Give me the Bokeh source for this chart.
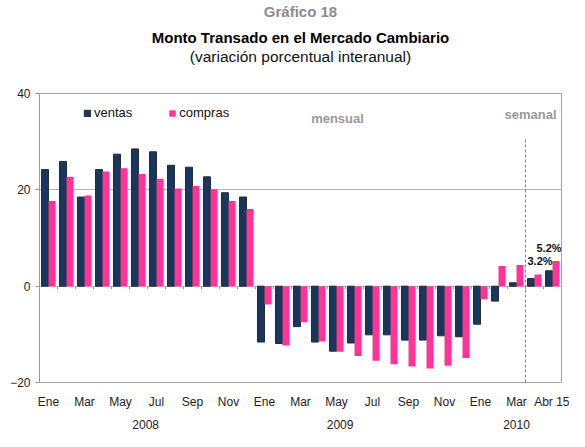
from bokeh.plotting import figure
from bokeh.models import (ColumnDataSource, FixedTicker, Legend, LegendItem, Label,
                          LinearAxis, Range1d, Title)
from bokeh.core.properties import value
from bokeh.embed import file_html
from bokeh.resources import INLINE

# ---------------- data ----------------
months = ["Ene", "Feb", "Mar", "Abr", "May", "Jun", "Jul", "Ago", "Sep", "Oct", "Nov", "Dic"]
tick_labels = months + months + ["Ene", "Feb", "Mar", "Abr 8", "Abr 15"]
n_monthly = 27  # Ene 2008 .. Mar 2010, then weekly data

ventas = [24.2, 25.9, 18.5, 24.2, 27.4, 28.5, 27.9, 25.1, 24.7, 22.7, 19.4, 18.5,
          -11.6, -11.9, -8.4, -11.6, -13.5, -11.8, -10.1, -10.1, -11.2, -11.2, -10.3, -10.5,
          -7.9, -3.1, 0.7, 1.6, 3.2]
compras = [17.7, 22.7, 18.8, 23.8, 24.5, 23.3, 22.3, 20.3, 20.8, 20.1, 17.7, 16.0,
           -3.8, -12.3, -7.5, -11.5, -13.6, -14.5, -15.5, -16.2, -16.7, -17.1, -16.5, -14.9,
           -2.7, 4.2, 4.4, 2.4, 5.2]

year_labels = ["2008", "2009", "2010"]
year_label_pos = [5.4, 16.2, 26.0]
y_ticks = [-20, 0, 20, 40]

FONT = "Liberation Sans"
NAVY = "#17375E"
PINK = "#FF3399"

W, H = 569, 431
FL, FR, FT, FB = 39, 561, 93, 382   # frame edges in pixels

n = len(ventas)
x = list(range(n))
xr = (-0.5, n - 0.5)
yr = (y_ticks[0], y_ticks[-1])


def dx(px):
    return xr[0] + (px - FL) / (FR - FL) * (xr[1] - xr[0])


def dy(py):
    return yr[1] - (py - FT) / (FB - FT) * (yr[1] - yr[0])


bw = 0.39
src = ColumnDataSource(dict(
    xv=[i - bw / 2 for i in x],
    xc=[i + bw / 2 for i in x],
    ventas=ventas,
    compras=compras,
))

p = figure(width=W, height=H, output_backend="svg", toolbar_location=None, title=None,
           x_range=Range1d(*xr), y_range=Range1d(*yr),
           min_border_left=FL, min_border_right=W - FR, min_border_top=FT,
           min_border_bottom=H - FB)
p.outline_line_color = "#a6a6a6"
p.background_fill_color = "white"
p.border_fill_color = "white"

# ---- titles (first added sits closest to the plot frame) ----
def spacer(s):
    return Title(text=" ", text_font_size="1px", standoff=s, align="center")

p.add_layout(spacer(25.7), "above")
p.add_layout(Title(text="(variación porcentual interanual)", align="center", text_font=FONT,
                   text_font_size="15.5px", text_font_style="normal", text_color="#111111",
                   standoff=0), "above")
p.add_layout(Title(text="Monto Transado en el Mercado Cambiario", align="center", text_font=FONT,
                   text_font_size="15px", text_font_style="bold", text_color="#000000",
                   standoff=0), "above")
p.add_layout(spacer(4.2), "above")
p.add_layout(Title(text="Gráfico 18", align="center", text_font=FONT, text_font_size="15px",
                   text_font_style="bold", text_color="#8c8c8c", standoff=0, offset=10),
             "above")

# grid
p.xgrid.visible = False
p.ygrid.ticker = FixedTicker(ticks=y_ticks)
p.ygrid.grid_line_color = "#b3b3b3"

# bars
rv = p.vbar(x="xv", top="ventas", width=bw, source=src, fill_color=NAVY,
            line_color="#2a2a2a", line_width=1)
rc = p.vbar(x="xc", top="compras", width=bw, source=src, fill_color=PINK, line_color=None)

# category boundary ticks on the zero line
bounds = [i + 0.5 for i in x[:-1]]
p.segment(x0=bounds, y0=[0] * len(bounds), x1=bounds, y1=[-0.6] * len(bounds),
          line_color="#999999", line_width=1)

# monthly / weekly separator
sep = n_monthly - 0.5
p.segment(x0=[sep], y0=[y_ticks[0]], x1=[sep], y1=[30.7], line_color="#7f7f7f",
          line_width=1, line_dash="3 2")

# y axis
p.yaxis.ticker = FixedTicker(ticks=y_ticks)
p.yaxis.axis_line_color = "#999999"
p.yaxis.major_tick_line_color = "#999999"
p.yaxis.major_tick_out = 4
p.yaxis.major_tick_in = 0
p.yaxis.minor_tick_line_color = None
p.yaxis.major_label_text_font = FONT
p.yaxis.major_label_text_font_size = "12px"
p.yaxis.major_label_text_color = "#222222"
p.yaxis.major_label_standoff = 5

# x axis (month labels every other category)
shown = x[::2]
p.xaxis.ticker = FixedTicker(ticks=shown)
p.xaxis.major_label_overrides = {i: tick_labels[i] for i in shown}
p.xaxis.axis_line_color = None
p.xaxis.major_tick_line_color = None
p.xaxis.major_tick_out = 0
p.xaxis.major_tick_in = 0
p.xaxis.minor_tick_line_color = None
p.xaxis.major_label_text_font = FONT
p.xaxis.major_label_text_font_size = "12px"
p.xaxis.major_label_text_color = "#222222"
p.xaxis.major_label_standoff = 12

# year axis
ya = LinearAxis(ticker=FixedTicker(ticks=year_label_pos),
                major_label_overrides={pos: lab for pos, lab in zip(year_label_pos, year_labels)})
ya.axis_line_color = None
ya.major_tick_line_color = None
ya.major_tick_out = 0
ya.major_tick_in = 0
ya.minor_tick_line_color = None
ya.major_label_text_font = FONT
ya.major_label_text_font_size = "12px"
ya.major_label_text_color = "#222222"
ya.major_label_standoff = 8
p.add_layout(ya, "below")

# value labels on last week
last = x[-1]
lab_src = ColumnDataSource(dict(
    x=[last - bw / 2, last + bw / 2],
    y=[ventas[-1], compras[-1]],
    text=[f"{ventas[-1]:.1f}%", f"{compras[-1]:.1f}%"],
    xo=[-9, -7],
    yo=[-4, -7],
))
p.text(x="x", y="y", text="text", x_offset="xo", y_offset="yo", source=lab_src,
       text_font=value(FONT), text_font_size="11px", text_font_style="bold",
       text_align="center", text_baseline="bottom", text_color="#111111")

# section labels
p.add_layout(Label(x=dx(337), y=dy(117.5), text="mensual", text_font=FONT, text_font_size="13px",
                   text_font_style="bold", text_color="#999999", text_align="center",
                   text_baseline="middle"))
p.add_layout(Label(x=dx(530), y=dy(114), text="semanal", text_font=FONT, text_font_size="13px",
                   text_font_style="bold", text_color="#999999", text_align="center",
                   text_baseline="middle"))

# legend
legend = Legend(items=[LegendItem(label="ventas", renderers=[rv]),
                       LegendItem(label="compras", renderers=[rc])],
                orientation="horizontal", location=(44, (FB - FT) - 27),
                border_line_color=None, background_fill_alpha=0, padding=0, margin=0,
                spacing=36, label_standoff=3, glyph_width=8, glyph_height=8,
                label_height=14, label_text_font=FONT, label_text_font_size="13px",
                label_text_color="#111111")
p.add_layout(legend)

open("out.html", "w").write(file_html(p, INLINE))
